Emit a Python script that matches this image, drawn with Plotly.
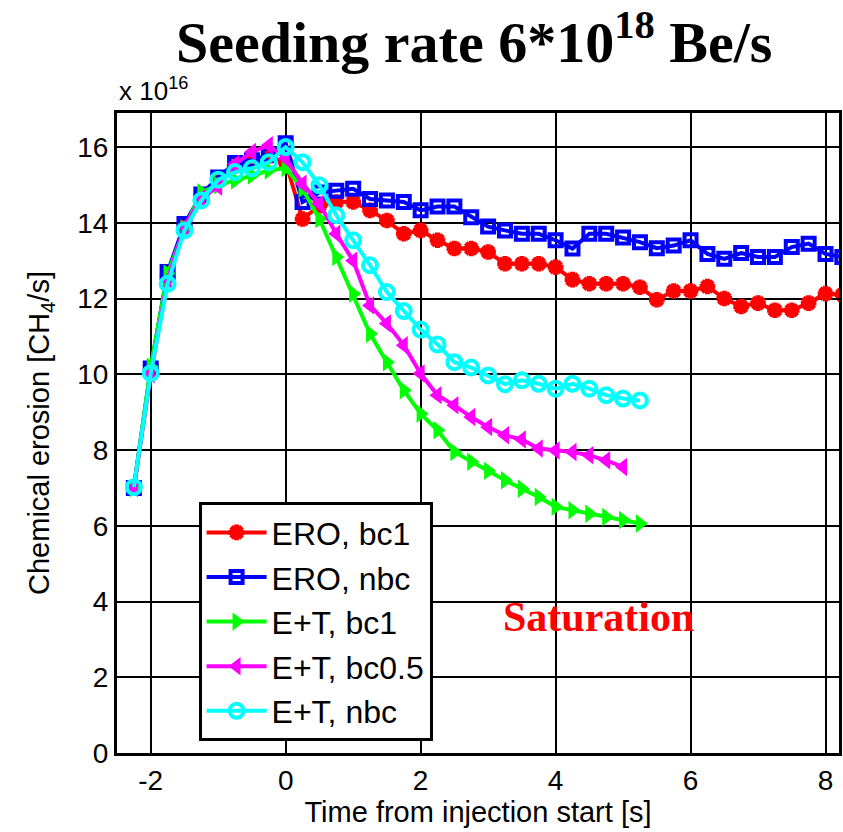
import numpy as np
import plotly.graph_objects as go

# Time axis: samples every 0.25 s starting at -2.25 s (seconds from injection start)
t_start = -2.25
dt = 0.25

# Chemical erosion, in units of 1e16 CH4/s
ero_bc1 = [7.0, 10.1, 12.6, 13.9, 14.7, 15.15, 15.5, 15.6, 15.75, 15.6,
           14.1, 14.45, 14.55, 14.55, 14.33, 14.06, 13.71, 13.8, 13.54, 13.32,
           13.32, 13.23, 12.92, 12.92, 12.92, 12.83, 12.5, 12.39, 12.39, 12.39,
           12.3, 11.97, 12.2, 12.2, 12.32, 12.0, 11.79, 11.88, 11.69, 11.69,
           11.88, 12.13, 12.1]
ero_nbc = [7.0, 10.15, 12.7, 13.97, 14.75, 15.2, 15.58, 15.65, 15.8, 16.1,
           14.55, 14.8, 14.85, 14.9, 14.63, 14.59, 14.55, 14.33, 14.43, 14.43,
           14.15, 13.9, 13.8, 13.71, 13.71, 13.54, 13.32, 13.71, 13.71, 13.61,
           13.49, 13.33, 13.4, 13.54, 13.18, 13.05, 13.2, 13.1, 13.1, 13.36,
           13.45, 13.18, 13.1]
et_bc1 = [7.0, 10.2, 12.66, 13.85, 14.81, 14.99, 15.12, 15.25, 15.38, 15.45,
          14.9, 14.1, 13.1, 12.13, 11.07, 10.32, 9.58, 8.96, 8.52, 7.95,
          7.69, 7.45, 7.2, 6.98, 6.76, 6.5, 6.41, 6.32, 6.23, 6.15, 6.06]
et_bc05 = [7.0, 10.0, 12.5, 13.9, 14.65, 14.95, 15.55, 15.87, 16.05, 15.7,
           15.03, 14.5, 13.71, 13.0, 11.82, 11.34, 10.77, 10.02, 9.45, 9.18,
           8.87, 8.61, 8.39, 8.28, 8.04, 7.99, 7.95, 7.86, 7.73, 7.55]
et_nbc = [7.02, 10.03, 12.39, 13.8, 14.59, 15.14, 15.34, 15.44, 15.6, 16.0,
          15.6, 14.99, 14.2, 13.54, 12.88, 12.17, 11.67, 11.18, 10.79, 10.32,
          10.18, 9.97, 9.74, 9.84, 9.75, 9.62, 9.75, 9.62, 9.45, 9.36, 9.31]

x_ticks = [-2, 0, 2, 4, 6, 8]
y_ticks = [0, 2, 4, 6, 8, 10, 12, 14, 16]


def times(values):
    return t_start + dt * np.arange(len(values))


series = [
    ("ERO, bc1", ero_bc1, "#ff0000", "asterisk-open", 13, 5),
    ("ERO, nbc", ero_nbc, "#0000ff", "square-open", 12, 4),
    ("E+T, bc1", et_bc1, "#00ff00", "triangle-right", 16, 0),
    ("E+T, bc0.5", et_bc05, "#ff00ff", "triangle-left", 16, 0),
    ("E+T, nbc", et_nbc, "#00ffff", "circle-open", 14, 4),
]

sans = "Liberation Sans, Arial, sans-serif"
serif = "Liberation Serif, Times New Roman, serif"

fig = go.Figure()
for name, vals, color, symbol, msize, mlw in series:
    fig.add_trace(go.Scatter(
        x=times(vals), y=vals, name=name, mode="lines+markers",
        line=dict(color=color, width=4),
        marker=dict(symbol=symbol, size=msize, color=color,
                    line=dict(color=color, width=mlw)),
    ))

fig.update_layout(
    width=843, height=832,
    margin=dict(l=117, r=1, t=113, b=79),
    plot_bgcolor="white", paper_bgcolor="white",
    font=dict(family=sans, color="black"),
    showlegend=True,
    legend=dict(
        x=0.113, y=0.392, xanchor="left", yanchor="top",
        bgcolor="white", bordercolor="black", borderwidth=3,
        font=dict(family=sans, size=32, color="black"),
        itemwidth=60, tracegroupgap=0,
    ),
)

fig.update_xaxes(
    range=[-2.5, 8.2], tickvals=x_ticks, ticktext=[str(v) for v in x_ticks],
    showgrid=True, gridcolor="black", gridwidth=2, zeroline=False,
    showline=True, linecolor="black", linewidth=3, mirror="ticks",
    ticks="inside", ticklen=8, tickwidth=2, tickcolor="black",
    tickfont=dict(family=sans, size=28),
    title=dict(text="Time from injection start [s]", standoff=4,
               font=dict(family=sans, size=29)),
)
fig.update_yaxes(
    range=[0, 16.9], tickvals=y_ticks, ticktext=[str(v) for v in y_ticks],
    showgrid=True, gridcolor="black", gridwidth=2, zeroline=False,
    showline=True, linecolor="black", linewidth=3, mirror="ticks",
    ticks="inside", ticklen=8, tickwidth=2, tickcolor="black",
    tickfont=dict(family=sans, size=28),
    title=dict(text="Chemical erosion [CH<sub>4</sub>/s]", standoff=20,
               font=dict(family=sans, size=29)),
)

# Title, exponent marker and the saturation note
fig.add_annotation(
    text="<b>Seeding rate 6*10<sup>18</sup> Be/s</b>",
    xref="paper", yref="paper", x=0.495, y=1.117,
    xanchor="center", yanchor="middle", showarrow=False,
    font=dict(family=serif, size=58, color="black"),
)
fig.add_annotation(
    text="x 10<sup>16</sup>",
    xref="paper", yref="paper", x=0.0, y=1.008,
    xanchor="left", yanchor="bottom", showarrow=False,
    font=dict(family=sans, size=26, color="black"),
)
fig.add_annotation(
    text="<b>Saturation</b>",
    xref="x", yref="y", x=4.64, y=3.6,
    xanchor="center", yanchor="middle", showarrow=False,
    font=dict(family=serif, size=42, color="#ff0000"),
)

fig.write_html("out.html")
